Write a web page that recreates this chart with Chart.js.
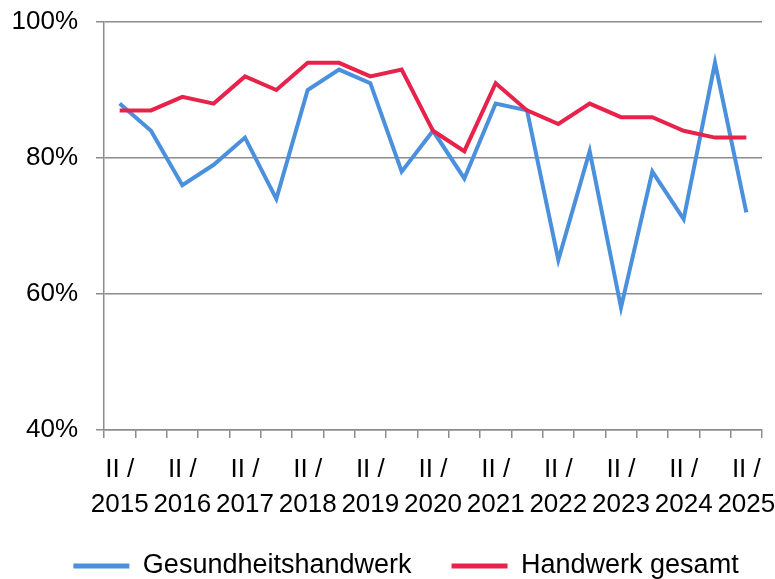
<!DOCTYPE html>
<html>
<head>
<meta charset="utf-8">
<script src="https://cdn.jsdelivr.net/npm/chart.js@4"></script>
<style>
  html, body { margin: 0; padding: 0; background: #fff; }
  #wrap { width: 775px; height: 579px; }
</style>
</head>
<body>
<div id="wrap"><canvas id="chart" width="775" height="579"></canvas></div>
<script>
// half-year periods, only "II / year" gets a label
const periods = [
    ['II /', '2015'], '', ['II /', '2016'], '', ['II /', '2017'], '', ['II /', '2018'], '',
    ['II /', '2019'], '', ['II /', '2020'], '', ['II /', '2021'], '', ['II /', '2022'], '',
    ['II /', '2023'], '', ['II /', '2024'], '', ['II /', '2025']
];

const gesundheitshandwerk = [88, 84, 76, 79, 83, 74, 90, 93, 91, 78, 84, 77, 88, 87, 65, 81, 58, 78, 71, 94, 72];
const handwerkGesamt = [87, 87, 89, 88, 92, 90, 94, 94, 92, 93, 84, 81, 91, 87, 85, 88, 86, 86, 84, 83, 83];

const yTicks = [40, 60, 80, 100];

const font = { family: "'Liberation Sans', Arial, sans-serif", size: 26 };
const gridColor = '#8c8c8c';

Chart.defaults.font.family = font.family;
Chart.defaults.color = '#000';

// nudge the legend a bit to the right, like the original
const legendShift = {
    id: 'legendShift',
    afterLayout(chart) {
        chart.legend.left += 21;
        chart.legend.right += 21;
    }
};

new Chart(document.getElementById('chart'), {
    type: 'line',
    data: {
        labels: periods,
        datasets: [
            {
                label: 'Handwerk gesamt',
                data: handwerkGesamt,
                borderColor: '#e8234b',
                backgroundColor: '#e8234b',
                borderWidth: 4,
                pointRadius: 0,
                tension: 0
            },
            {
                label: 'Gesundheitshandwerk',
                data: gesundheitshandwerk,
                borderColor: '#4a90dc',
                backgroundColor: '#4a90dc',
                borderWidth: 4,
                pointRadius: 0,
                tension: 0
            }
        ]
    },
    plugins: [legendShift],
    options: {
        responsive: false,
        animation: false,
        layout: { padding: { left: 8, right: 13, top: 22, bottom: -10.5 } },
        plugins: {
            tooltip: { enabled: false },
            legend: {
                position: 'bottom',
                reverse: true,
                labels: {
                    font: { family: font.family, size: 27 },
                    boxWidth: 56,
                    boxHeight: 5,
                    padding: 40,
                    generateLabels(chart) {
                        return Chart.defaults.plugins.legend.labels.generateLabels(chart).map(l => {
                            l.lineWidth = 0;
                            l.fillStyle = l.strokeStyle;
                            return l;
                        });
                    }
                }
            }
        },
        scales: {
            x: {
                offset: true,
                afterFit(axis) {
                    axis.height = 82.5;
                    axis.paddingLeft = 0;
                    axis.paddingRight = 0;
                },
                grid: {
                    offset: true,
                    drawOnChartArea: false,
                    color: gridColor,
                    tickLength: 8,
                    lineWidth: 1.5
                },
                border: { color: gridColor, width: 1.5 },
                ticks: {
                    font: { family: font.family, size: 26, lineHeight: 1.35 },
                    autoSkip: false,
                    maxRotation: 0,
                    minRotation: 0,
                    padding: 14
                }
            },
            y: {
                min: 40,
                max: 100,
                afterBuildTicks(axis) {
                    axis.ticks = yTicks.map(v => ({ value: v }));
                },
                afterFit(axis) {
                    axis.width = 96;
                    axis.paddingTop = 0;
                    axis.paddingBottom = 0;
                },
                grid: {
                    color: gridColor,
                    tickLength: 8,
                    lineWidth: 1.5
                },
                border: { color: gridColor, width: 1.5 },
                ticks: {
                    font: font,
                    padding: 18,
                    callback: v => v + '%'
                }
            }
        }
    }
});
</script>
</body>
</html>
